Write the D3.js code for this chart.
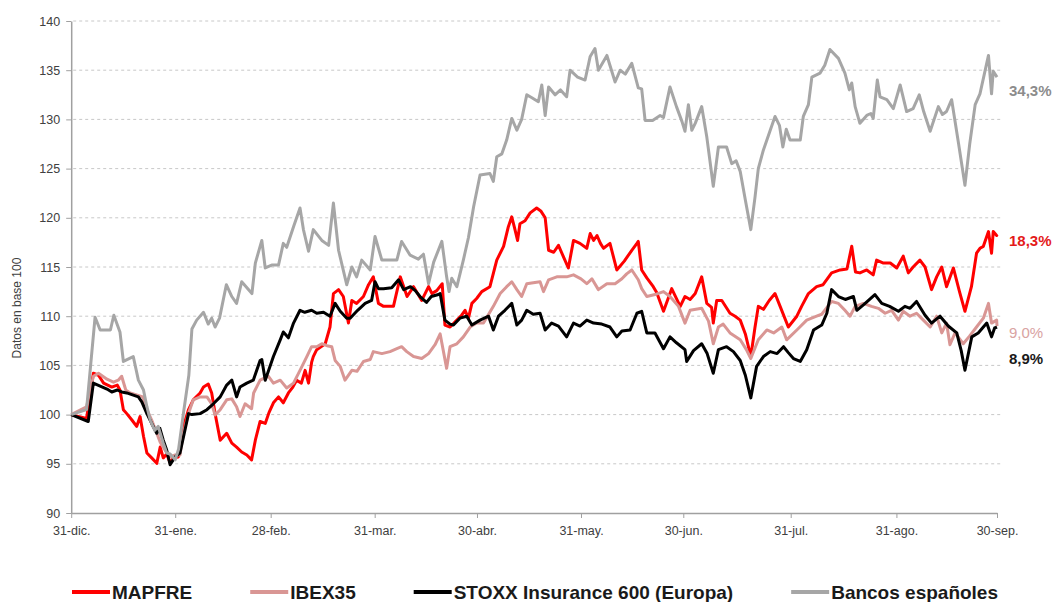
<!DOCTYPE html>
<html>
<head>
<meta charset="UTF-8">
<title>MAPFRE vs IBEX35</title>
<script type="text/javascript" src="https://cdn.jsdelivr.net/npm/d3@7/dist/d3.min.js"></script>
<style>
body {margin:0; background:#fff;}
svg text {font-family: "Liberation Sans", Arial, sans-serif;}
</style>
</head>
<body>
<div id="chart"></div>
<script type="text/javascript">
// days counted from 31-dic (chart units), value in base 100
var tickDays = [1.5, 32, 60, 90.5, 120.5, 151, 181, 212.5, 243.5, 273];
var tickLabels = ["31-dic.", "31-ene.", "28-feb.", "31-mar.", "30-abr.", "31-may.", "30-jun.", "31-jul.", "31-ago.", "30-sep."];
var yTicks = [90, 95, 100, 105, 110, 115, 120, 125, 130, 135, 140];

var mapfre = [[1.5,100],[6,99.6],[8,104.2],[9.5,104],[11,103.2],[13.4,102.8],[15,103],[15.8,102.5],[16.8,100.5],[17.8,100.1],[19.3,99.45],[20.7,98.8],[21.7,99.8],[22.7,97.8],[23.7,96.1],[25.1,95.6],[26.6,95.05],[27.6,96.7],[28.5,95.6],[29.5,96],[30.5,95.1],[31.5,95.6],[32.9,95.7],[34.4,98.8],[35.9,100.5],[37.3,101.5],[39.3,102.2],[40.3,102.8],[41.7,103.1],[42.7,102.2],[43.7,100.1],[45.2,97.4],[47.1,98.1],[48.6,97.1],[50,96.7],[51.5,96.2],[53,95.9],[54.4,95.4],[55.5,97.4],[56.9,99.3],[58.4,99.1],[59.5,100.2],[60.8,101.2],[62.3,101.8],[63.7,101.2],[65.2,102.2],[66.5,102.8],[67.6,103.5],[69,103.2],[70.1,104.5],[71.1,103.2],[72,105.3],[72.5,105.9],[73.5,106.6],[76,107.2],[77.4,108.9],[78.4,112.3],[79.9,112.7],[81.3,112],[82.8,109.3],[83.8,111.6],[85.2,111.3],[87.2,112],[88.7,113.2],[90.1,114],[91.6,111.3],[93.1,111],[96,111],[98,114],[100,112],[101.9,113],[104.3,111.6],[106.3,113],[107.3,112.3],[108.7,112.6],[110.3,113.3],[111.1,109.1],[112.6,108.9],[114.6,109.6],[116,110.1],[117,110.6],[118,109.8],[119,111.3],[120.4,111.8],[121.9,112.5],[124.3,113],[126.3,115.7],[128.3,117.1],[129.7,119.1],[130.7,120.1],[131.5,119],[132.4,117.7],[133.1,119.4],[134.6,119.7],[136.1,120.5],[138,121],[139.2,120.7],[140.5,120],[141.5,116.7],[143,116.5],[144.4,117.2],[145.9,116],[147.3,114.9],[148.8,117.7],[150.7,117.4],[152.7,116.9],[153.7,118.4],[154.7,117.7],[155.7,118.2],[156.7,117.4],[157.6,116.9],[159.5,117.4],[161.5,114.7],[163.7,115.6],[165.9,116.7],[167.4,117.4],[167.8,117.6],[168.8,114.7],[170.3,113.9],[172.2,113],[173.2,112.4],[175.2,110.5],[177.6,112.8],[180.1,111],[181.5,112],[183,111.7],[184.5,112.3],[186.4,114],[187.9,111.3],[189.3,110.9],[189.8,109.3],[190.8,111.6],[192.3,111.6],[194.7,110.3],[196.2,110],[197.7,109.6],[199.2,108.2],[200.8,105.9],[202,108.8],[203,111],[204.5,110.7],[206.2,111.6],[207.9,112.3],[209.4,111],[211.8,108.9],[214.3,110],[215.7,111],[217.7,112.3],[220.1,113],[222,113.2],[224.5,114.4],[227,114.7],[229,114.8],[230.4,117.1],[231.5,114.5],[232.8,114.4],[234.8,114.7],[236.7,114.2],[237.7,115.7],[239.7,115.4],[241.7,115.4],[243.6,114.9],[245.5,116.1],[247,114.4],[248.4,115],[250.4,115.7],[251.9,115],[253.8,112.7],[255.3,114],[256.8,115],[258.2,113],[260.2,114.9],[262,112.5],[263.6,110.5],[265.5,113],[267,116.4],[268,116.9],[269,117.1],[270.5,118.6],[271.4,116.4],[271.9,118.6],[272.9,118.2],[273,118.3]];

var ibex = [[1.5,100],[6,100.8],[8,103.9],[9.5,104.2],[12,103.6],[13.9,103.3],[15.3,103.5],[16.3,103.9],[17.5,102.5],[18.8,102.2],[20.7,102],[22.5,101.8],[23.7,100.5],[25.1,99.45],[26.6,98.1],[27.6,97.2],[29,96.4],[30.5,95.7],[32,95.9],[33.4,95.9],[34.4,98.1],[35.9,100.1],[37.3,101.5],[39.3,101.8],[41.3,101.8],[42.7,101.1],[43.7,99.96],[45.2,100.5],[47.1,101.5],[48.6,101.6],[50,100.8],[51,99.8],[52.5,101.1],[54.4,100.6],[55,102.2],[56.9,103.5],[59.3,103.9],[60.8,103.2],[62.8,103.5],[64.7,102.7],[66.7,103.2],[68.6,104.5],[70.6,105.9],[72,106.9],[73.5,106.9],[75,107.2],[76.5,107],[77.9,106.9],[78.9,105.5],[80.4,104.9],[81.8,103.5],[83.8,104.5],[85.3,104.4],[87.2,105.4],[89.2,105.6],[90.1,106.4],[92.6,106.2],[95,106.4],[97,106.7],[98.4,106.9],[99.9,106.4],[101.9,105.9],[104.3,105.7],[106.3,106.2],[108.2,107.1],[109.7,108.2],[111.6,104.7],[112.6,106.9],[114.6,107.2],[116.5,107.9],[118.5,108.9],[120.4,109.3],[122.4,109.3],[125.3,111],[127.3,112.3],[129.2,113],[130.7,113.5],[132.2,112.7],[133.6,112],[135.1,113.3],[137,113.4],[139,113.5],[140,112.5],[141.5,113.7],[143.9,114],[146.8,114],[148.8,114.2],[151,113.8],[152.7,113.3],[154.2,113.8],[156.1,112.7],[158.6,113.3],[161,113.3],[163,113.8],[164.4,114.3],[165.9,114.7],[167.8,113.7],[168.8,112.8],[170.3,112],[172.7,112.2],[175.2,112.5],[177.1,112],[179.6,111],[181.5,109.3],[183,110.6],[186.4,110.8],[188.4,109.5],[189.8,107.2],[191.3,108.9],[192.7,109.2],[194.7,108.3],[197.7,107.6],[199.5,106.6],[200.8,105.7],[203,107.6],[205.5,108.6],[207.5,108.3],[209.9,108.9],[211.3,107.6],[214.3,108.6],[217.2,109.6],[220.1,110],[221.6,110.2],[224.5,111.5],[226.5,111.3],[228.4,110.6],[229.9,110],[231.4,111],[233.8,111.3],[236.2,111],[238.2,110.8],[240.2,110.3],[242.1,110.6],[244.1,109.6],[245.5,110.5],[247.5,110],[249.4,110.3],[251.4,109.6],[253.4,108.9],[255.3,110],[256.8,108.3],[258.2,109.3],[259.2,107.1],[260.7,108.3],[263.1,107.2],[265,108],[267,108.9],[269,109.8],[270.5,111.3],[271.4,109.3],[272.9,109.6],[273,109]];

var stoxx = [[1.5,100],[6.5,99.3],[8,103.2],[10,102.9],[12,102.6],[13.4,102.3],[15,102.5],[16.3,102.3],[17.8,102.2],[19.5,102],[21.2,101.8],[22.2,101.3],[23.7,100.1],[25.1,99.1],[26.6,98.1],[27.5,98.6],[28.5,97.4],[29.5,96.4],[30.5,94.9],[32,95.7],[33.4,96.1],[34.6,98],[35.9,100.1],[36.9,100],[39.3,100.1],[41.3,100.5],[43.2,101.1],[45.2,101.8],[47.1,103],[48.6,103.5],[50,101.8],[51,102.8],[53,103.2],[54.9,103.5],[56.9,105.5],[57.4,105.6],[58.4,103.5],[60.8,105.9],[62.8,107.6],[63.7,108.4],[65.2,107.8],[66.7,109.3],[68.6,110.6],[70,110.4],[72,110.6],[73.5,110.3],[75.5,110.4],[77.4,110],[78.9,111.3],[80.4,110.5],[82.3,109.8],[83.3,109.8],[85.5,110.6],[87.7,111.3],[89.6,111.6],[90.6,113.5],[91.6,112.8],[93.1,112.8],[95.5,112.9],[97.5,113.7],[99,112.7],[101,113],[102.4,112.6],[103.8,112],[105.7,111.4],[107.1,112],[109.2,112.2],[109.7,112.3],[111.1,109.6],[112.6,109.2],[113.6,109.1],[115.5,109.8],[117.5,110],[119,109.1],[121.4,109.6],[123.9,110],[125.3,108.6],[126.8,110],[128.7,110.6],[130.7,111.3],[132.2,109.1],[133.6,109.6],[135.1,110.6],[137,110.2],[139,110.3],[140.5,108.6],[142.4,109.3],[144.4,109],[146.8,107.9],[148.8,109.3],[150.7,109],[152.7,109.6],[154.7,109.3],[157.1,109.2],[159.5,108.9],[161.5,107.9],[163,108.5],[165.4,108.6],[167.4,110.3],[168.8,110.5],[170.3,108.3],[172.7,108.3],[175.2,106.7],[177.1,107.9],[179,107.3],[181.5,106.6],[182,105.4],[184,106.5],[186.4,107.2],[188,106.2],[189.8,104.2],[191.3,106.6],[193.7,106.9],[195.7,106.4],[197.7,105.5],[199.2,104],[200.8,101.7],[202.5,104.9],[204.5,105.9],[206.5,106.4],[208.5,106.2],[210.4,106.9],[211.8,106.3],[213.3,105.7],[215.3,105.4],[217.2,106.6],[219.2,108.6],[221.6,109.1],[223.1,110.3],[224.5,112.7],[226.5,112],[228.5,111.7],[230.9,112],[231.9,110.6],[234,111.2],[237.2,112.2],[239.2,111.3],[241.5,111],[244.1,110.5],[246,111],[247.5,110.8],[249.4,111.5],[251.9,110.1],[253.8,109.3],[256.3,110],[258.7,109],[261.2,108.3],[262.5,106.5],[263.6,104.5],[265.6,107.9],[267.5,108.3],[270,109.3],[271.4,107.9],[272.3,108.8],[273,108.9]];

var bancos = [[1.5,100],[6,100.5],[8.5,109.9],[10,108.6],[13,108.6],[14,110.1],[15.8,108.4],[16.8,105.4],[19.7,105.9],[21.2,103.5],[22.7,102.5],[23.7,100.8],[24.7,99.4],[26,98.4],[27,98.8],[28.5,97.1],[29.5,96.1],[30.5,96],[32,95.4],[33,96.5],[34.4,100.1],[36,104],[36.9,108.7],[38.3,109.6],[40.3,110.4],[41.7,109.2],[42.7,109.8],[43.7,108.9],[45,109.8],[47,113.2],[48.6,112],[50,111.3],[51.5,113.5],[54.5,112.3],[55.5,115.4],[57.4,117.7],[58.4,114.9],[60.3,115.2],[62.3,115.2],[63.7,117.4],[64.7,117],[66.7,119.1],[68.6,121],[69.6,118.8],[71.1,116.6],[72.5,118.8],[75,117.7],[77,117.2],[78.4,121.5],[79.9,116.7],[82.3,113.2],[83.8,115],[85.2,114],[86.7,115.7],[89.2,114.7],[90.6,118.1],[92.6,115.7],[97,115.7],[98.4,117.6],[100.9,116.2],[103.3,115.8],[104.8,116.3],[106.3,113.3],[107.8,115.5],[110.2,117.6],[111.6,114],[112.3,112.5],[113.1,113.85],[114.6,113],[116.5,115.7],[118,118],[119.5,121.1],[121.4,124.35],[124.3,124.5],[125.3,123.7],[126.3,126.2],[127.8,126.5],[129.2,127.9],[130.7,130.1],[132.2,128.9],[133.6,130],[135.1,132.5],[136.6,132.2],[138.5,131.8],[139.5,133.5],[140.5,130.4],[141.5,133.3],[143.4,132.5],[145,133],[146.8,132.3],[147.8,135],[150,134.3],[152.2,134],[153.7,136.4],[155.1,137.2],[156.1,135],[158.6,136.5],[161,133.8],[162.5,135],[164,134.6],[165.9,135.7],[167.8,133.2],[168.8,133.1],[169.8,129.9],[172,129.9],[174.2,130.4],[175.2,130.2],[177.1,133.3],[179,131.3],[180.6,129.8],[181.5,128.8],[182.5,131.5],[183.5,128.9],[184.5,129.6],[186.4,131.3],[187.9,128.2],[189.8,123.2],[191.3,127.2],[193.7,127.2],[195.2,125.5],[196.5,125.8],[197.7,124.7],[199.2,121.8],[200.8,118.8],[202,122],[203,125],[204.5,126.9],[206.5,128.9],[207.9,130.3],[209.2,129.4],[210.2,127.2],[211.2,129],[212.3,127.9],[215.3,127.9],[216.2,130.3],[217.7,131.5],[218.7,134.3],[221.1,134.7],[222.5,135.5],[224,137.1],[226.5,136.2],[228.4,134.7],[229.7,133],[230.4,133.7],[231.4,131.3],[232.8,129.6],[234.8,130.4],[236,130.6],[236.7,130.1],[237.9,134],[238.7,132.3],[240.7,132],[242.6,131.1],[244.6,133.5],[246.5,130.8],[248.4,131.1],[250.2,132.5],[251.5,130.8],[253.4,128.8],[255.8,131.3],[257,130.5],[258.2,130.8],[259.7,132],[261.7,127.6],[263.6,123.3],[265,127.5],[266.6,131.5],[268,132.6],[270.5,136.5],[271.4,132.6],[271.9,134.9],[273,134.3]];

var seriesNames = ["MAPFRE", "IBEX35", "STOXX Insurance 600 (Europa)", "Bancos españoles"];
var seriesColors = ["#ff0000", "#d99694", "#000000", "#a6a6a6"];
var endLabels = ["18,3%", "9,0%", "8,9%", "34,3%"];
var endLabelColors = ["#e41a1a", "#d9a3a2", "#1a1a1a", "#8c8c8c"];
var allSeries = [mapfre, ibex, stoxx, bancos];

// chart size
var w = 1063;
var h = 602;

var svg = d3.select("#chart")
      .append("svg")
      .attr("width", w)
      .attr("height", h);

svg.append("rect").attr("width", w).attr("height", h).attr("fill", "#fff");

var x = d3.scaleLinear().domain([1.5, 273]).range([71.2, 997]);
var y = d3.scaleLinear().domain([90, 140]).range([513, 21]);

// dashed gridlines
svg.append("g")
  .selectAll("line")
  .data(yTicks.filter(function(d) { return d > 90; }))
  .enter()
  .append("line")
  .attr("x1", x(1.5) + 2)
  .attr("x2", 1001)
  .attr("y1", function(d) { return y(d); })
  .attr("y2", function(d) { return y(d); })
  .style("stroke", "#c8c8c8")
  .style("stroke-width", 1)
  .style("stroke-dasharray", "3,3");

// y axis
var yAxis = svg.append("g")
  .attr("transform", "translate(" + x(1.5) + ",0)")
  .call(d3.axisLeft(y).tickValues(yTicks).tickSize(5).tickSizeOuter(0).tickPadding(6));
yAxis.select(".domain").style("stroke", "#a0a0a0").style("stroke-width", 1.5);
yAxis.selectAll(".tick line").style("stroke", "#a0a0a0");
yAxis.selectAll("text").style("font-size", "12.5px").style("fill", "#404040");

// x axis
var xAxis = svg.append("g")
  .attr("transform", "translate(0," + y(90) + ")")
  .call(d3.axisBottom(x).tickValues(tickDays)
        .tickFormat(function(d, i) { return tickLabels[i]; })
        .tickSize(5).tickSizeOuter(0).tickPadding(8));
xAxis.select(".domain").style("stroke", "#a0a0a0").style("stroke-width", 1.5);
xAxis.selectAll(".tick line").style("stroke", "#a0a0a0");
xAxis.selectAll("text").style("font-size", "12.5px").style("fill", "#404040");

// y title
svg.append("text")
  .attr("transform", "translate(21,308) rotate(-90)")
  .attr("text-anchor", "middle")
  .style("font-size", "12px")
  .style("fill", "#404040")
  .text("Datos en base 100");

// lines
var line = d3.line()
  .x(function(d) { return x(d[0]); })
  .y(function(d) { return y(d[1]); });

svg.append("g")
  .selectAll("path")
  .data(allSeries)
  .enter()
  .append("path")
  .attr("d", line)
  .style("fill", "none")
  .style("stroke", function(d, i) { return seriesColors[i]; })
  .style("stroke-width", 3)
  .style("stroke-linejoin", "round");

// end labels, placed a little off the line end so they don't collide
var endLabelY = [241, 333, 359, 91];
svg.append("g")
  .selectAll("text")
  .data(endLabels)
  .enter()
  .append("text")
  .attr("x", 1009)
  .attr("y", function(d, i) { return endLabelY[i]; })
  .attr("dy", "0.35em")
  .style("font-size", "15px")
  .style("font-weight", function(d, i) { return i == 1 ? "normal" : "bold"; })
  .style("fill", function(d, i) { return endLabelColors[i]; })
  .text(function(d) { return d; });

// legend, spread between the left and right edges of the plot
var leg = svg.append("g").attr("transform", "translate(0,592)");
var items = leg.selectAll("g")
  .data(seriesNames)
  .enter()
  .append("g");
items.append("line")
  .attr("x1", 0).attr("x2", 38)
  .style("stroke", function(d, i) { return seriesColors[i]; })
  .style("stroke-width", 4);
items.append("text")
  .attr("x", 40)
  .attr("dy", "0.36em")
  .style("font-size", "19px")
  .style("font-weight", "bold")
  .style("fill", "#1a1a1a")
  .text(function(d) { return d; });

var widths = [];
items.each(function() {
  widths.push(40 + d3.select(this).select("text").node().getComputedTextLength());
});
var legLeft = 72, legRight = 998;
var gap = (legRight - legLeft - d3.sum(widths)) / (widths.length - 1);
var pos = legLeft;
items.each(function(d, i) {
  d3.select(this).attr("transform", "translate(" + pos + ",0)");
  pos += widths[i] + gap;
});
</script>
</body>
</html>
